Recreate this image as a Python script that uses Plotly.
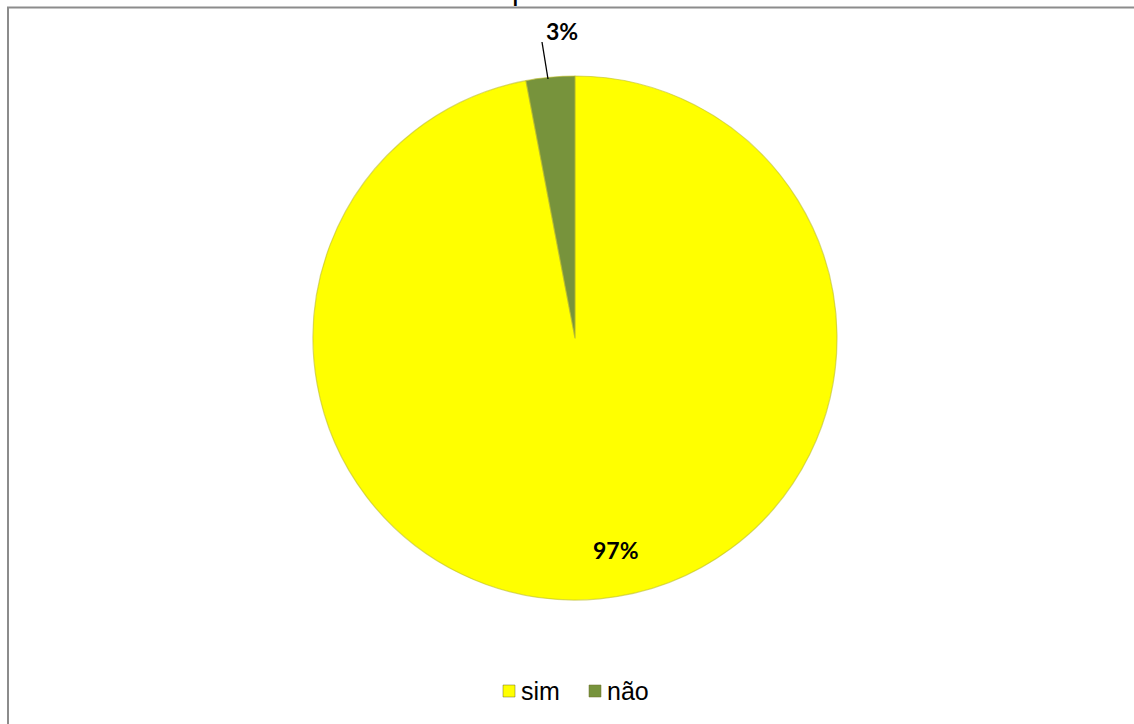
import plotly.graph_objects as go

W, H = 1134, 724

labels = ["sim", "não"]
values = [97, 3]
pct_text = ["97%", "3%"]
colors = ["#FFFF00", "#77933C"]
title_text = "posteriormente"

def px(x):
    return x / W

def py(y):
    return 1 - y / H

cx, cy, r = 575, 338, 262

fig = go.Figure()
fig.add_trace(go.Pie(
    labels=labels,
    values=values,
    sort=False,
    direction="clockwise",
    rotation=0,
    textinfo="none",
    hoverinfo="label+percent",
    marker=dict(colors=colors, line=dict(color="rgba(190,190,40,0.6)", width=1.2)),
    domain=dict(x=[px(cx - r), px(cx + r)], y=[py(cy + r), py(cy - r)]),
    showlegend=False,
))

# data labels
label_pos = [(616, 550), (562, 31)]
for txt, (lx, ly) in zip(pct_text, label_pos):
    fig.add_annotation(x=px(lx), y=py(ly), xref="paper", yref="paper",
                       xanchor="center", yanchor="middle",
                       text="<b>" + txt + "</b>", showarrow=False,
                       font=dict(family="Lato, Liberation Sans, sans-serif", size=23, color="black"))
# leader line
fig.add_shape(type="line", xref="paper", yref="paper",
              x0=px(542), y0=py(42), x1=px(548), y1=py(79),
              line=dict(color="black", width=1.3))

# title (cut off at top, as in the original)
fig.add_annotation(x=px(612), y=py(7.5), xref="paper", yref="paper",
                   xanchor="center", yanchor="bottom",
                   text=title_text, showarrow=False,
                   font=dict(family="Liberation Sans, Arial, sans-serif", size=30, color="black"))

# legend (drawn manually to match the compact original layout)
leg_x = [503, 589]
leg_y = 691
for lab, col, lx in zip(labels, colors, leg_x):
    fig.add_shape(type="rect", xref="paper", yref="paper",
                  x0=px(lx), x1=px(lx + 12), y0=py(leg_y + 6), y1=py(leg_y - 6),
                  fillcolor=col, line=dict(color="rgba(110,110,40,0.5)", width=1))
    fig.add_annotation(x=px(lx + 16), y=py(leg_y), xref="paper", yref="paper",
                       xanchor="left", yanchor="middle", text=lab, showarrow=False,
                       font=dict(family="Liberation Sans, Arial, sans-serif", size=25, color="black"))

# chart border (top and left)
fig.add_shape(type="line", xref="paper", yref="paper",
              x0=px(7), y0=py(7.5), x1=1.0, y1=py(7.5),
              line=dict(color="#8C8C8C", width=2))
fig.add_shape(type="line", xref="paper", yref="paper",
              x0=px(8), y0=py(7), x1=px(8), y1=0,
              line=dict(color="#8C8C8C", width=2))

fig.update_layout(
    width=W, height=H,
    margin=dict(l=0, r=0, t=0, b=0),
    paper_bgcolor="white",
    plot_bgcolor="white",
    showlegend=False,
)

fig.write_html("out.html", config={"displayModeBar": False},
               post_script="document.body.style.margin='0';document.body.style.overflow='hidden';")
